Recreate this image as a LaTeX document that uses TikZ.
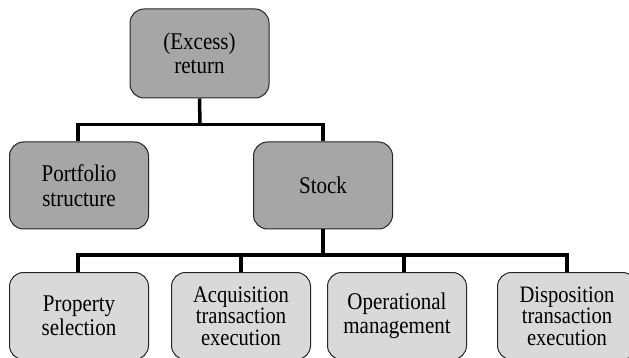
\documentclass[tikz,border=0pt]{standalone}
\usepackage{fontspec}
\setmainfont[FakeStretch=0.875]{Liberation Serif}
\definecolor{boxdark}{HTML}{A6A6A6}
\definecolor{boxlight}{HTML}{D9D9D9}

\begin{document}
\begin{tikzpicture}[x=1pt, y=-1pt,
    caja/.style={draw=black!85, line width=1pt, rounded corners=14pt,
        minimum width=139pt, minimum height=87pt, align=center,
        font=\fontsize{24}{24.5}\selectfont},
    nivel/.style={caja, fill=boxdark},
    hoja/.style={caja, fill=boxlight},
    hojatres/.style={hoja, font=\fontsize{23.5}{21.5}\selectfont},
    rama/.style={line width=3.5pt}]
        \useasboundingbox (0,0) rectangle (629,358);
        % niveles superiores
        \node[nivel, minimum height=89pt] (ret) at (199.5,53.5) {(Excess)\\return};
        \node[nivel] (port) at (79,185.5) {Portfolio\\structure};
        \node[nivel] (stock) at (323,185.5) {Stock};
        % hojas
        \node[hoja] (sel) at (79,316) {Property\\selection};
        \node[hojatres] (acq) at (241,316) {Acquisition\\transaction\\execution};
        \node[hoja] (op) at (397,316) {Operational\\management};
        \node[hojatres] (dis) at (567,316) {Disposition\\transaction\\execution};
        % ramas
        \coordinate (bus1) at (200,124.5);
        \coordinate (bus2) at (323,255);
        \draw[rama] (ret.south) -- (bus1);
        \draw[rama] ([xshift=-1pt]port.north) |- (bus1) -| (stock.north);
        \draw[rama] (stock.south) -- (bus2);
        \draw[rama] ([xshift=-1pt]sel.north) |- (bus2) -| (dis.north);
        \foreach \n/\d in {acq/0, op/7}
            \draw[rama] ([xshift=\d pt]\n.north) -- ([xshift=\d pt]\n.north |- bus2);
\end{tikzpicture}
\end{document}
